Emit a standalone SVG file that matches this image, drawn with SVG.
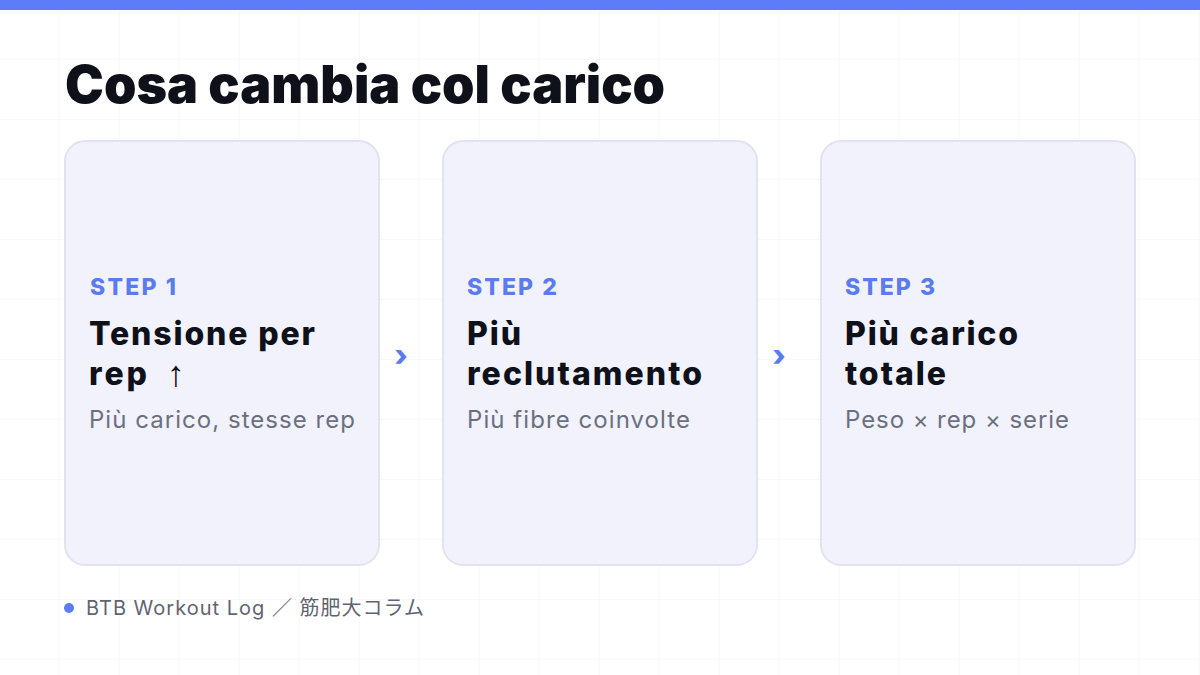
<svg xmlns="http://www.w3.org/2000/svg" width="1200" height="675" viewBox="0 0 1200 675">
<defs>
<pattern id="grid" width="60" height="60" patternUnits="userSpaceOnUse">
<path d="M60 0V60M0 60H60" fill="none" stroke="#f1f2f5" stroke-width="1"/>
</pattern>
</defs>
<style>
.card{fill:#f1f2fb;stroke:#e1e4f0;stroke-width:2}
.step{font-family:Inter,"Liberation Sans",sans-serif;font-weight:800;font-size:23px;fill:#5b7cf0}
.head{font-family:Inter,"Liberation Sans",sans-serif;font-weight:800;font-size:32px;fill:#0f111a}
.sub{font-family:Inter,"Liberation Sans",sans-serif;font-size:24px;fill:#6b7080}
.chev{font-family:Inter,"Liberation Sans",sans-serif;font-weight:800;font-size:30px;fill:#5b7cf0}
</style>
<rect width="1200" height="675" fill="#ffffff"/>
<rect width="1200" height="675" fill="url(#grid)"/>
<rect x="0" y="0" width="1200" height="10" fill="#5c7cfa"/>
<text x="65" y="103" font-family="Inter,'Liberation Sans',sans-serif" font-weight="900" font-size="52" fill="#0f111a" textLength="600" lengthAdjust="spacing">Cosa cambia col carico</text>
<g id="step1">
<rect class="card" x="65" y="141" width="314" height="424" rx="20"/>
<text class="step" x="90" y="295" textLength="86">STEP 1</text>
<text class="head" x="89" y="345" textLength="226">Tensione per</text>
<text class="head" x="89" y="385" textLength="58">rep</text>
<text x="176" y="386" text-anchor="middle" font-family="'Liberation Sans','DejaVu Sans',sans-serif" font-weight="400" font-size="36" fill="#0f111a">↑</text>
<text class="sub" x="89" y="428" textLength="266">Più carico, stesse rep</text>
</g>
<g id="step2">
<rect class="card" x="443" y="141" width="314" height="424" rx="20"/>
<text class="step" x="467" y="295" textLength="90">STEP 2</text>
<text class="head" x="467" y="345" textLength="54">Più</text>
<text class="head" x="467" y="385" textLength="235">reclutamento</text>
<text class="sub" x="467" y="428" textLength="223">Più fibre coinvolte</text>
</g>
<g id="step3">
<rect class="card" x="821" y="141" width="314" height="424" rx="20"/>
<text class="step" x="845" y="295" textLength="90">STEP 3</text>
<text class="head" x="845" y="345" textLength="173">Più carico</text>
<text class="head" x="845" y="385" textLength="101">totale</text>
<text class="sub" x="845" y="428" textLength="224">Peso × rep × serie</text>
</g>
<g id="connectors">
<text class="chev" x="401" y="366" text-anchor="middle">›</text>
<text class="chev" x="779" y="366" text-anchor="middle">›</text>
</g>
<g id="footer">
<circle cx="69" cy="608" r="5" fill="#5c7cfa"/>
<text x="86" y="615" font-family="Inter,'Noto Sans CJK JP',sans-serif" font-size="20" fill="#5f6472" textLength="338">BTB Workout Log ／ 筋肥大コラム</text>
</g>
</svg>
